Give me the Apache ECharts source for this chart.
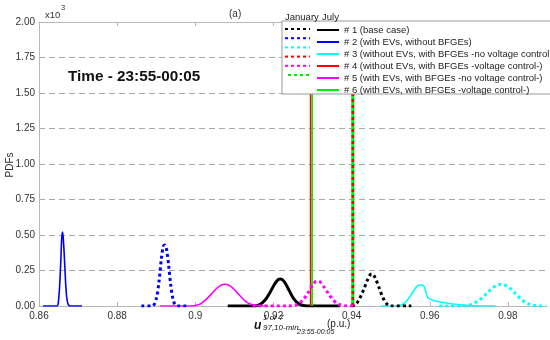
<!DOCTYPE html>
<html><head><meta charset="utf-8">
<script src="https://cdn.jsdelivr.net/npm/echarts@6/dist/echarts.min.js"></script>
<style>html,body{margin:0;padding:0;background:#fff}#c{width:550px;height:340px}</style>
</head><body><div id="c"></div>
<script>
// ---- data (x in p.u., y in PDF x10^3) ----
var xTicks = [0.86, 0.88, 0.9, 0.92, 0.94, 0.96, 0.98];
var yTicks = [0, 0.25, 0.5, 0.75, 1, 1.25, 1.5, 1.75, 2];
var legendLabels = ['# 1 (base case)', '# 2 (with EVs, without BFGEs)', '# 3 (without EVs, with BFGEs -no voltage control-)', '# 4 (without EVs, with BFGEs -voltage control-)', '# 5 (with EVs, with BFGEs -no voltage control-)', '# 6 (with EVs, with BFGEs -voltage control-)'];
var jan1 = [[0.9400,0],[0.9410,0.01],[0.9420,0.05],[0.9430,0.11],[0.9440,0.18],[0.9448,0.222],[0.9453,0.226],[0.9460,0.2],[0.9470,0.13],[0.9480,0.06],[0.9490,0.015],[0.9500,0],[0.9553,0]];
var jul1 = [[0.9083,0],[0.9150,0],[0.9165,0.01],[0.9178,0.04],[0.9190,0.09],[0.9202,0.15],[0.9212,0.185],[0.9218,0.19],[0.9228,0.17],[0.9240,0.11],[0.9252,0.05],[0.9265,0.015],[0.9280,0.002],[0.9300,0],[0.9370,0]];
var jan2 = [[0.8862,0],[0.8890,0],[0.8900,0.05],[0.8907,0.17],[0.8913,0.33],[0.8918,0.42],[0.8922,0.43],[0.8927,0.39],[0.8932,0.28],[0.8937,0.15],[0.8942,0.06],[0.8948,0.01],[0.8955,0],[0.8977,0]];
var jul2 = [[0.8610,0],[0.8646,0],[0.8650,0.04],[0.8653,0.15],[0.8656,0.33],[0.8658,0.47],[0.8660,0.52],[0.8662,0.48],[0.8665,0.34],[0.8668,0.17],[0.8671,0.06],[0.8675,0.01],[0.8680,0],[0.8710,0]];
var jan3 = [[0.9624,0],[0.9690,0],[0.9705,0.01],[0.9720,0.03],[0.9735,0.06],[0.9750,0.1],[0.9765,0.135],[0.9778,0.152],[0.9790,0.15],[0.9805,0.125],[0.9820,0.085],[0.9835,0.045],[0.9850,0.018],[0.9865,0.005],[0.9880,0],[0.9897,0]];
var jul3 = [[0.9475,0],[0.9515,0],[0.9525,0.005],[0.9535,0.02],[0.9545,0.05],[0.9555,0.09],[0.9563,0.125],[0.9570,0.145],[0.9578,0.148],[0.9585,0.14],[0.9590,0.1],[0.9595,0.06],[0.9603,0.045],[0.9620,0.032],[0.9645,0.02],[0.9670,0.01],[0.9700,0.004],[0.9768,0]];
var jan4 = [[0.9403,0],[0.9403,2]];
var jul4 = [[0.9295,0],[0.9295,2]];
var jan5 = [[0.9147,0],[0.9240,0],[0.9260,0.01],[0.9275,0.04],[0.9288,0.09],[0.9300,0.145],[0.9310,0.175],[0.9318,0.172],[0.9328,0.14],[0.9340,0.09],[0.9352,0.045],[0.9365,0.015],[0.9380,0.003],[0.9395,0],[0.9405,0]];
var jul5 = [[0.8909,0],[0.8990,0],[0.9010,0.01],[0.9025,0.04],[0.9040,0.08],[0.9055,0.125],[0.9068,0.15],[0.9078,0.153],[0.9090,0.14],[0.9102,0.11],[0.9115,0.07],[0.9128,0.035],[0.9142,0.012],[0.9160,0.002],[0.9180,0]];
var jan6 = [[0.9403,0],[0.9403,2]];
var jul6 = [[0.9299,0],[0.9299,2]];

var colors = ['#000000', '#0000ff', '#00ffff', '#ff0000', '#ff00ff', '#00ee00'];
var janData = [jan1, jan2, jan3, jan4, jan5, jan6];
var julData = [jul1, jul2, jul3, jul4, jul5, jul6];

var series = [];
var janNames = [], julNames = [];
for (var i = 0; i < 6; i++) {
  janNames.push('Jan' + i);
  julNames.push('Jul' + i);
}
for (var i = 0; i < 6; i++) {
  series.push({
    name: 'Jul' + i, type: 'line', data: julData[i], showSymbol: false, symbol: 'none',
    smooth: (i === 3 || i === 5) ? false : 0.3,
    lineStyle: {color: colors[i], width: i === 0 ? 3 : 1.6, type: 'solid'},
    itemStyle: {color: colors[i]}, z: 2, silent: true, animation: false
  });
}
for (var i = 0; i < 6; i++) {
  series.push({
    name: 'Jan' + i, type: 'line', data: janData[i], showSymbol: false, symbol: 'none',
    smooth: (i === 3 || i === 5) ? false : 0.3,
    lineStyle: {color: colors[i], width: 3, type: [3, 3], dashOffset: i === 5 ? 3 : 0, cap: 'butt'},
    itemStyle: {color: colors[i]}, z: 3, silent: true, animation: false
  });
}

var FONT = 'Liberation Sans, Arial';
var chart = echarts.init(document.getElementById('c'));
var axisGray = '#b8b8b8';
chart.setOption({
  animation: false,
  backgroundColor: '#fff',
  grid: {left: 39, right: 3, top: 22, bottom: 34, containLabel: false, outerBoundsMode: 'none'},
  xAxis: [{
    type: 'value', min: 0.86, max: 0.99, interval: 0.02, position: 'bottom',
    axisLine: {lineStyle: {color: axisGray}}, axisTick: {inside: true, length: 4, lineStyle: {color: axisGray}},
    splitLine: {show: false},
    axisLabel: {color: '#333', fontSize: 10, fontFamily: FONT, margin: 5, showMaxLabel: false, hideOverlap: false,
      formatter: function (v) { return String(parseFloat(v.toFixed(2))); }}
  }, {
    type: 'value', min: 0.86, max: 0.99, interval: 0.02, position: 'top',
    axisLine: {show: true, lineStyle: {color: axisGray}}, axisTick: {show: true, inside: true, length: 4, lineStyle: {color: axisGray}},
    splitLine: {show: false}, axisLabel: {show: false}
  }],
  yAxis: {
    type: 'value', min: 0, max: 2, interval: 0.25,
    axisLine: {show: true, lineStyle: {color: axisGray}}, axisTick: {show: false},
    splitLine: {show: true, lineStyle: {color: '#a8a8a8', type: [6, 4], width: 1}},
    axisLabel: {color: '#333', fontSize: 10, fontFamily: FONT, margin: 4,
      formatter: function (v) { return v.toFixed(2); }}
  },
  legend: [{
    data: janNames, orient: 'vertical', left: 284, top: 25, itemWidth: 25, itemHeight: 8, itemGap: 2,
    padding: 0, selectedMode: false, formatter: function () { return ''; }, z: 10,
    itemStyle: {opacity: 0}, textStyle: {fontSize: 9.5}
  }, {
    data: julNames, orient: 'vertical', left: 316, top: 25, itemWidth: 22, itemHeight: 8, itemGap: 2,
    padding: 0, selectedMode: false, z: 10, itemStyle: {opacity: 0},
    formatter: function (n) { return legendLabels[+n.slice(3)]; },
    textStyle: {fontSize: 9.5, color: '#222', fontFamily: FONT}
  }],
  graphic: [
    {type: 'rect', shape: {x: 282, y: 21, width: 272, height: 73}, style: {fill: '#fff', stroke: '#999', lineWidth: 1}, z: 5, silent: true},
    {type: 'text', left: 285, top: 12, style: {text: 'January', font: '9.5px ' + FONT, fill: '#222'}, z: 6},
    {type: 'text', left: 322, top: 12, style: {text: 'July', font: '9.5px ' + FONT, fill: '#222'}, z: 6},
    {type: 'text', left: 45, top: 10, style: {text: 'x10', font: '9.5px ' + FONT, fill: '#333'}, z: 6},
    {type: 'text', left: 61, top: 4, style: {text: '3', font: '7.5px ' + FONT, fill: '#333'}, z: 6},
    {type: 'text', left: 229, top: 9, style: {text: '(a)', font: '10px ' + FONT, fill: '#333'}, z: 6},
    {type: 'text', x: 10, y: 165, rotation: Math.PI / 2, style: {text: 'PDFs', font: '10px ' + FONT, fill: '#333', align: 'center', verticalAlign: 'middle'}, z: 6},
    {type: 'text', left: 68, top: 69, style: {text: 'Time - 23:55-00:05', font: 'bold 15.3px ' + FONT, fill: '#111'}, z: 6},
    {type: 'text', left: 254, top: 320, style: {text: 'u', font: 'italic bold 12px ' + FONT, fill: '#111'}, z: 6},
    {type: 'text', left: 263, top: 314, style: {text: '1 or 7', font: 'italic 8px ' + FONT, fill: '#111'}, z: 6},
    {type: 'text', left: 263, top: 324, style: {text: '97,10-min', font: 'italic 8px ' + FONT, fill: '#111'}, z: 6},
    {type: 'text', left: 297, top: 329, style: {text: '23:55-00:05', font: 'italic 7px ' + FONT, fill: '#111'}, z: 6},
    {type: 'text', left: 327, top: 319, style: {text: '(p.u.)', font: '10px ' + FONT, fill: '#222'}, z: 6}
  ],
  series: series
});
</script>
</body></html>
